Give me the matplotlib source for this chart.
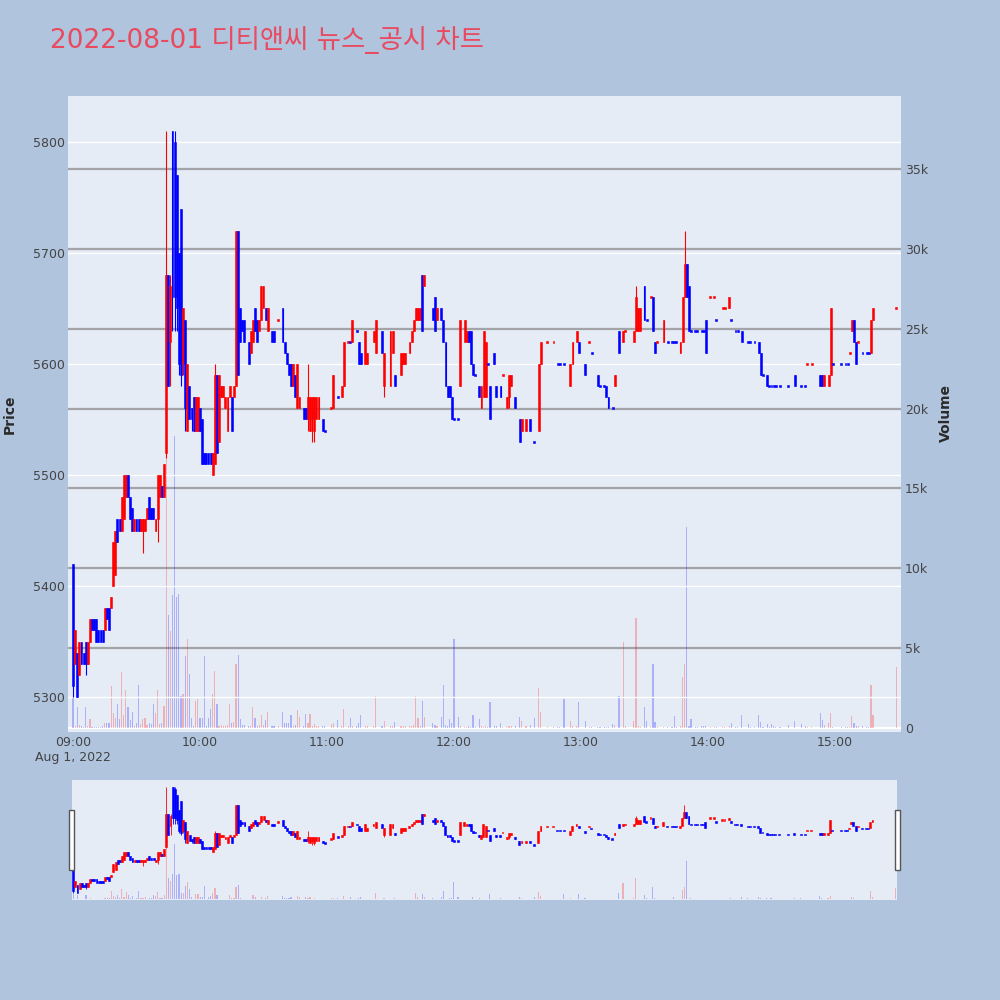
import numpy as np
import matplotlib.pyplot as plt
from matplotlib.patches import Rectangle

plt.rcParams['font.family'] = ['DejaVu Sans', 'Noto Sans CJK KR']

# minutes after 09:00, one row per traded minute
minute = [0, 1, 2, 3, 4, 5, 6, 7, 8, 9,
          10, 11, 12, 13, 14, 15, 16, 17, 18, 19,
          20, 21, 22, 23, 24, 25, 26, 27, 28, 29,
          30, 31, 32, 33, 34, 35, 36, 37, 38, 39,
          40, 41, 42, 43, 44, 45, 46, 47, 48, 49,
          50, 51, 52, 53, 54, 55, 56, 57, 58, 59,
          60, 61, 62, 63, 64, 65, 66, 67, 68, 69,
          70, 71, 72, 73, 74, 75, 76, 77, 78, 79,
          80, 81, 83, 84, 85, 86, 87, 88, 89, 90,
          91, 92, 94, 95, 97, 99, 100, 101, 102, 103,
          104, 105, 106, 107, 109, 110, 111, 112, 113, 114,
          115, 116, 118, 119, 122, 123, 125, 127, 128, 130,
          131, 132, 134, 135, 136, 138, 139, 142, 143, 146,
          147, 150, 151, 152, 155, 156, 157, 159, 160, 161,
          162, 163, 164, 165, 166, 170, 171, 172, 174, 175,
          176, 177, 178, 179, 180, 182, 183, 185, 186, 187,
          188, 189, 190, 192, 193, 194, 195, 196, 197, 199,
          200, 202, 203, 205, 206, 207, 209, 211, 212, 214,
          216, 218, 220, 221, 224, 227, 229, 230, 232, 235,
          236, 238, 239, 242, 244, 245, 248, 249, 251, 252,
          253, 255, 256, 258, 260, 261, 265, 266, 267, 268,
          270, 271, 273, 274, 275, 276, 279, 281, 283, 284,
          285, 287, 288, 289, 290, 291, 292, 294, 295, 297,
          298, 299, 301, 303, 304, 307, 308, 310, 311, 313,
          314, 316, 319, 320, 322, 324, 325, 326, 328, 329,
          330, 331, 332, 334, 338, 341, 344, 346, 347, 349,
          353, 354, 355, 357, 358, 359, 363, 365, 366, 367,
          368, 369, 370, 371, 373, 375, 376, 377, 378, 389]

open_ = [5420, 5330, 5340, 5320, 5350, 5340, 5350, 5330, 5350, 5370,
         5370, 5370, 5360, 5360, 5360, 5360, 5380, 5380, 5380, 5400,
         5410, 5460, 5460, 5450, 5460, 5480, 5500, 5480, 5470, 5450,
         5460, 5460, 5450, 5450, 5450, 5460, 5480, 5470, 5470, 5450,
         5460, 5480, 5490, 5480, 5520, 5680, 5620, 5810, 5800, 5770,
         5700, 5740, 5600, 5640, 5540, 5580, 5560, 5570, 5540, 5540,
         5560, 5550, 5520, 5520, 5520, 5520, 5500, 5510, 5590, 5530,
         5570, 5570, 5560, 5540, 5570, 5570, 5570, 5580, 5720, 5650,
         5640, 5640, 5620, 5610, 5620, 5650, 5640, 5630, 5640, 5650,
         5650, 5630, 5630, 5630, 5640, 5650, 5620, 5610, 5600, 5600,
         5580, 5590, 5560, 5560, 5560, 5560, 5550, 5540, 5550, 5540,
         5550, 5550, 5550, 5540, 5560, 5560, 5570, 5570, 5580, 5620,
         5620, 5620, 5630, 5620, 5610, 5600, 5600, 5620, 5610, 5630,
         5580, 5580, 5610, 5590, 5590, 5600, 5600, 5610, 5620, 5630,
         5640, 5640, 5640, 5680, 5670, 5650, 5660, 5640, 5650, 5640,
         5620, 5580, 5580, 5570, 5550, 5550, 5580, 5620, 5620, 5630,
         5630, 5600, 5590, 5580, 5560, 5570, 5570, 5600, 5580, 5610,
         5580, 5580, 5590, 5560, 5570, 5580, 5570, 5550, 5540, 5540,
         5550, 5530, 5540, 5600, 5620, 5620, 5600, 5600, 5600, 5580,
         5600, 5620, 5620, 5600, 5620, 5610, 5590, 5580, 5580, 5580,
         5570, 5560, 5580, 5630, 5620, 5630, 5620, 5630, 5630, 5630,
         5670, 5640, 5660, 5660, 5620, 5620, 5620, 5620, 5620, 5620,
         5620, 5610, 5620, 5660, 5690, 5670, 5630, 5630, 5630, 5630,
         5630, 5640, 5660, 5660, 5640, 5650, 5650, 5650, 5640, 5630,
         5630, 5630, 5620, 5620, 5620, 5620, 5610, 5590, 5590, 5580,
         5580, 5580, 5580, 5580, 5580, 5590, 5580, 5580, 5600, 5600,
         5590, 5590, 5580, 5580, 5590, 5600, 5600, 5600, 5600, 5610,
         5630, 5640, 5620, 5620, 5610, 5610, 5610, 5610, 5640, 5650]

high = [5420, 5360, 5340, 5350, 5350, 5340, 5350, 5350, 5370, 5370,
        5370, 5370, 5360, 5360, 5360, 5380, 5380, 5380, 5390, 5440,
        5450, 5460, 5460, 5480, 5500, 5500, 5500, 5480, 5470, 5460,
        5460, 5460, 5460, 5460, 5460, 5470, 5480, 5470, 5470, 5460,
        5500, 5500, 5490, 5510, 5810, 5680, 5680, 5810, 5810, 5770,
        5700, 5740, 5650, 5640, 5600, 5580, 5560, 5570, 5570, 5570,
        5560, 5550, 5520, 5520, 5520, 5520, 5520, 5600, 5590, 5590,
        5580, 5580, 5570, 5570, 5580, 5570, 5580, 5720, 5720, 5650,
        5640, 5640, 5620, 5630, 5640, 5650, 5640, 5640, 5670, 5670,
        5650, 5650, 5630, 5630, 5640, 5650, 5620, 5610, 5600, 5600,
        5600, 5590, 5600, 5570, 5560, 5560, 5600, 5570, 5570, 5570,
        5570, 5570, 5550, 5540, 5560, 5590, 5570, 5580, 5620, 5620,
        5620, 5640, 5630, 5620, 5610, 5630, 5610, 5630, 5640, 5630,
        5610, 5630, 5630, 5590, 5610, 5610, 5610, 5620, 5630, 5640,
        5650, 5650, 5650, 5680, 5680, 5650, 5660, 5650, 5650, 5640,
        5620, 5580, 5580, 5570, 5550, 5550, 5640, 5640, 5630, 5630,
        5630, 5600, 5590, 5580, 5580, 5630, 5620, 5600, 5580, 5610,
        5580, 5580, 5590, 5570, 5590, 5590, 5570, 5550, 5550, 5550,
        5550, 5530, 5600, 5620, 5620, 5620, 5600, 5600, 5600, 5600,
        5620, 5630, 5620, 5600, 5620, 5610, 5590, 5580, 5580, 5580,
        5570, 5560, 5590, 5630, 5630, 5630, 5630, 5670, 5650, 5650,
        5670, 5640, 5660, 5660, 5620, 5620, 5640, 5620, 5620, 5620,
        5620, 5620, 5660, 5720, 5690, 5670, 5630, 5630, 5630, 5630,
        5630, 5640, 5660, 5660, 5640, 5650, 5650, 5660, 5640, 5630,
        5630, 5630, 5620, 5620, 5620, 5620, 5610, 5590, 5590, 5580,
        5580, 5580, 5580, 5580, 5580, 5590, 5580, 5580, 5600, 5600,
        5590, 5590, 5590, 5590, 5650, 5600, 5600, 5600, 5600, 5610,
        5640, 5640, 5620, 5620, 5610, 5610, 5610, 5640, 5650, 5650]

low = [5300, 5330, 5300, 5320, 5330, 5330, 5320, 5330, 5350, 5360,
       5360, 5350, 5350, 5350, 5350, 5360, 5370, 5360, 5380, 5400,
       5410, 5440, 5450, 5450, 5460, 5480, 5480, 5460, 5450, 5450,
       5450, 5450, 5450, 5430, 5450, 5460, 5460, 5460, 5460, 5450,
       5440, 5480, 5480, 5480, 5515, 5580, 5580, 5630, 5630, 5630,
       5590, 5580, 5590, 5540, 5540, 5550, 5540, 5540, 5540, 5540,
       5540, 5510, 5510, 5510, 5510, 5510, 5500, 5510, 5520, 5530,
       5570, 5570, 5560, 5540, 5570, 5540, 5570, 5580, 5590, 5620,
       5630, 5620, 5600, 5610, 5620, 5630, 5620, 5630, 5640, 5650,
       5640, 5630, 5620, 5620, 5640, 5620, 5610, 5600, 5590, 5580,
       5580, 5570, 5560, 5560, 5550, 5550, 5540, 5540, 5530, 5530,
       5550, 5550, 5540, 5540, 5560, 5560, 5570, 5570, 5580, 5620,
       5620, 5620, 5630, 5600, 5600, 5600, 5600, 5620, 5610, 5610,
       5570, 5580, 5610, 5580, 5590, 5600, 5600, 5610, 5620, 5630,
       5640, 5640, 5640, 5630, 5670, 5640, 5630, 5640, 5640, 5620,
       5580, 5570, 5570, 5550, 5550, 5550, 5580, 5620, 5620, 5620,
       5600, 5590, 5590, 5570, 5560, 5570, 5570, 5600, 5550, 5600,
       5570, 5570, 5590, 5560, 5560, 5580, 5560, 5530, 5540, 5540,
       5540, 5530, 5540, 5600, 5620, 5620, 5600, 5600, 5600, 5580,
       5600, 5620, 5610, 5590, 5620, 5610, 5580, 5580, 5580, 5570,
       5560, 5560, 5580, 5610, 5620, 5630, 5620, 5630, 5630, 5630,
       5640, 5640, 5660, 5630, 5610, 5620, 5620, 5620, 5620, 5620,
       5620, 5610, 5620, 5660, 5660, 5630, 5630, 5630, 5630, 5630,
       5630, 5610, 5660, 5660, 5640, 5650, 5650, 5650, 5640, 5630,
       5630, 5620, 5620, 5620, 5620, 5610, 5590, 5590, 5580, 5580,
       5580, 5580, 5580, 5580, 5580, 5580, 5580, 5580, 5600, 5600,
       5580, 5580, 5580, 5580, 5590, 5600, 5600, 5600, 5600, 5610,
       5630, 5620, 5600, 5620, 5610, 5610, 5610, 5610, 5640, 5650]

close = [5310, 5360, 5300, 5350, 5330, 5330, 5330, 5350, 5370, 5360,
         5360, 5350, 5350, 5350, 5350, 5380, 5370, 5360, 5390, 5440,
         5450, 5440, 5450, 5480, 5500, 5500, 5480, 5460, 5450, 5460,
         5450, 5450, 5460, 5460, 5460, 5470, 5460, 5460, 5460, 5460,
         5500, 5500, 5480, 5510, 5680, 5580, 5670, 5660, 5660, 5650,
         5600, 5590, 5650, 5560, 5600, 5550, 5550, 5540, 5570, 5570,
         5540, 5510, 5510, 5510, 5510, 5510, 5520, 5590, 5520, 5590,
         5580, 5580, 5570, 5570, 5580, 5540, 5580, 5720, 5590, 5620,
         5630, 5620, 5600, 5630, 5640, 5630, 5620, 5640, 5670, 5670,
         5640, 5650, 5620, 5620, 5640, 5620, 5610, 5600, 5590, 5580,
         5600, 5570, 5600, 5570, 5550, 5550, 5570, 5570, 5570, 5570,
         5570, 5570, 5540, 5540, 5560, 5590, 5570, 5580, 5620, 5620,
         5620, 5640, 5630, 5600, 5600, 5630, 5610, 5630, 5640, 5610,
         5610, 5630, 5630, 5580, 5610, 5610, 5610, 5620, 5630, 5640,
         5650, 5650, 5650, 5630, 5680, 5640, 5630, 5650, 5640, 5620,
         5580, 5570, 5570, 5550, 5550, 5550, 5640, 5640, 5630, 5620,
         5600, 5590, 5590, 5570, 5580, 5630, 5620, 5600, 5550, 5600,
         5570, 5570, 5590, 5570, 5590, 5590, 5560, 5530, 5550, 5550,
         5540, 5530, 5600, 5620, 5620, 5620, 5600, 5600, 5600, 5600,
         5620, 5630, 5610, 5590, 5620, 5610, 5580, 5580, 5580, 5570,
         5560, 5560, 5590, 5610, 5630, 5630, 5630, 5660, 5650, 5650,
         5640, 5640, 5660, 5630, 5610, 5620, 5640, 5620, 5620, 5620,
         5620, 5620, 5660, 5690, 5660, 5630, 5630, 5630, 5630, 5630,
         5630, 5610, 5660, 5660, 5640, 5650, 5650, 5660, 5640, 5630,
         5630, 5620, 5620, 5620, 5620, 5610, 5590, 5590, 5580, 5580,
         5580, 5580, 5580, 5580, 5580, 5580, 5580, 5580, 5600, 5600,
         5580, 5580, 5590, 5590, 5650, 5600, 5600, 5600, 5600, 5610,
         5640, 5620, 5600, 5620, 5610, 5610, 5610, 5640, 5650, 5650]

volume = [1900, 100, 1300, 200, 120, 80, 1300, 150, 570, 60,
          50, 50, 60, 40, 150, 300, 300, 300, 2600, 950,
          630, 1500, 570, 3500, 800, 2400, 1300, 500, 1000, 100,
          300, 2700, 280, 570, 630, 200, 300, 250, 1500, 950,
          2400, 270, 300, 1400, 17000, 7100, 6100, 8300, 18300, 8200,
          8400, 2000, 2100, 4500, 5600, 3400, 630, 100, 1700, 1800,
          600, 600, 4500, 100, 630, 1200, 2100, 3600, 1500, 100,
          200, 100, 150, 200, 1500, 300, 400, 4000, 4600, 570,
          200, 200, 100, 150, 1300, 630, 150, 200, 800, 200,
          520, 1000, 100, 150, 100, 1000, 300, 300, 300, 840,
          150, 200, 1100, 700, 100, 900, 300, 900, 100, 250,
          100, 100, 100, 100, 250, 300, 480, 100, 1200, 100,
          600, 100, 100, 300, 840, 100, 100, 150, 2000, 100,
          460, 150, 150, 350, 100, 150, 100, 150, 150, 170,
          2000, 630, 100, 1700, 700, 300, 200, 100, 700, 2700,
          200, 100, 570, 300, 5600, 660, 100, 50, 60, 100,
          60, 840, 50, 570, 150, 60, 100, 50, 1600, 100,
          100, 300, 50, 50, 100, 100, 150, 700, 420, 150,
          170, 650, 2500, 1000, 50, 50, 50, 50, 1800, 420,
          150, 100, 1600, 460, 60, 50, 50, 50, 50, 50,
          50, 230, 170, 2000, 5400, 100, 450, 6900, 100, 60,
          1300, 460, 50, 4000, 380, 50, 50, 50, 50, 780,
          50, 100, 3200, 4000, 12600, 100, 570, 50, 50, 150,
          150, 150, 50, 50, 50, 50, 50, 100, 340, 50,
          50, 840, 250, 50, 50, 840, 350, 50, 250, 50,
          250, 150, 50, 50, 200, 420, 250, 100, 50, 50,
          920, 530, 200, 300, 950, 50, 50, 50, 50, 50,
          780, 320, 150, 100, 150, 50, 50, 2700, 800, 3800]

# single-price minutes drawn as rising (red) ticks
flat_up = [97, 122, 130, 203, 224, 227, 244, 261, 273, 276,
           301, 303, 307, 308, 347, 349, 367, 371, 389]

price_ticks = [5300, 5400, 5500, 5600, 5700, 5800]
vol_ticks = [0, 5000, 10000, 15000, 20000, 25000, 30000, 35000]
vol_labels = ['0', '5k', '10k', '15k', '20k', '25k', '30k', '35k']
time_ticks = [0, 60, 120, 180, 240, 300, 360]
time_labels = ['09:00', '10:00', '11:00', '12:00', '13:00', '14:00', '15:00']

m = np.array(minute, dtype=float)
o = np.array(open_, dtype=float)
h = np.array(high, dtype=float)
lo = np.array(low, dtype=float)
c = np.array(close, dtype=float)
v = np.array(volume, dtype=float)
up = (c > o) | np.isin(m, flat_up)
colors = np.where(up, '#ff0000', '#0000ff')

PRICE_LIM = (5268.5, 5841.4)
VOL_LIM = (-250, 39570)


def draw(ax_p, ax_v, min_body, wick_lw, body_w, vol_w):
    ax_v.bar(m, v, width=vol_w, color=colors, alpha=0.25, linewidth=0, zorder=2)
    ax_p.vlines(m, lo, h, colors=colors, linewidth=wick_lw, zorder=3)
    bot = np.minimum(o, c)
    hgt = np.abs(c - o)
    pad = np.clip(min_body - hgt, 0, None)
    ax_p.bar(m, hgt + pad, width=body_w, bottom=bot - pad / 2, color=colors,
             edgecolor=colors, linewidth=0.4, zorder=4)


fig = plt.figure(figsize=(10, 10), dpi=100, facecolor='#B0C4DE')

ax_v = fig.add_axes([0.068, 0.268, 0.833, 0.636], facecolor='#E5ECF6')
ax_p = ax_v.twinx()
ax_v.yaxis.tick_right()
ax_p.yaxis.tick_left()

for y in vol_ticks[1:]:
    ax_v.axhline(y, color='#a3a3a8', linewidth=1.6, zorder=1)
ax_v.axhline(0, color='white', linewidth=1.5, zorder=1)
for y in price_ticks:
    ax_p.axhline(y, color='white', linewidth=1.0, zorder=1)

draw(ax_p, ax_v, 1.8, 0.8, 0.9, 0.55)

ax_v.set_xlim(-2.36, 391.2)
ax_v.set_ylim(*VOL_LIM)
ax_p.set_ylim(*PRICE_LIM)

ax_p.set_yticks(price_ticks)
ax_p.set_yticklabels([str(t) for t in price_ticks])
ax_v.set_yticks(vol_ticks)
ax_v.set_yticklabels(vol_labels)
ax_v.set_xticks(time_ticks)
ax_v.set_xticklabels(time_labels)

for a in (ax_v, ax_p):
    for s in a.spines.values():
        s.set_visible(False)
    a.tick_params(length=0, labelsize=9, labelcolor='#444444')
ax_p.tick_params(axis='y', pad=2)
ax_v.tick_params(axis='y', pad=3)
ax_v.tick_params(axis='x', pad=3)

fig.text(0.073, 0.242, 'Aug 1, 2022', ha='center', va='center',
         fontsize=9, color='#444444')
fig.text(0.010, 0.586, 'Price', rotation=90, ha='center', va='center',
         fontsize=10, fontweight='bold', color='#2a2a2a')
fig.text(0.946, 0.587, 'Volume', rotation=90, ha='center', va='center',
         fontsize=10, fontweight='bold', color='#2a2a2a')
fig.text(0.05, 0.96, '2022-08-01 디티앤씨 뉴스_공시 차트', ha='left', va='center',
         fontsize=19, color='#E84A5F')

# range slider
ax_s = fig.add_axes([0.072, 0.100, 0.825, 0.120], facecolor='#E5ECF6')
ax_s2 = ax_s.twinx()
draw(ax_s2, ax_s, 7, 0.6, 0.9, 0.55)
ax_s.set_xlim(-0.6, 389.6)
ax_s.set_ylim(*VOL_LIM)
ax_s2.set_ylim(*PRICE_LIM)
for a in (ax_s, ax_s2):
    a.set_xticks([])
    a.set_yticks([])
    for s in a.spines.values():
        s.set_visible(False)

for x0 in (0.069, 0.895):
    fig.add_artist(Rectangle((x0, 0.130), 0.005, 0.060, transform=fig.transFigure,
                             facecolor='white', edgecolor='#555555', linewidth=1))

fig.savefig('out.png', dpi=100, facecolor=fig.get_facecolor())
